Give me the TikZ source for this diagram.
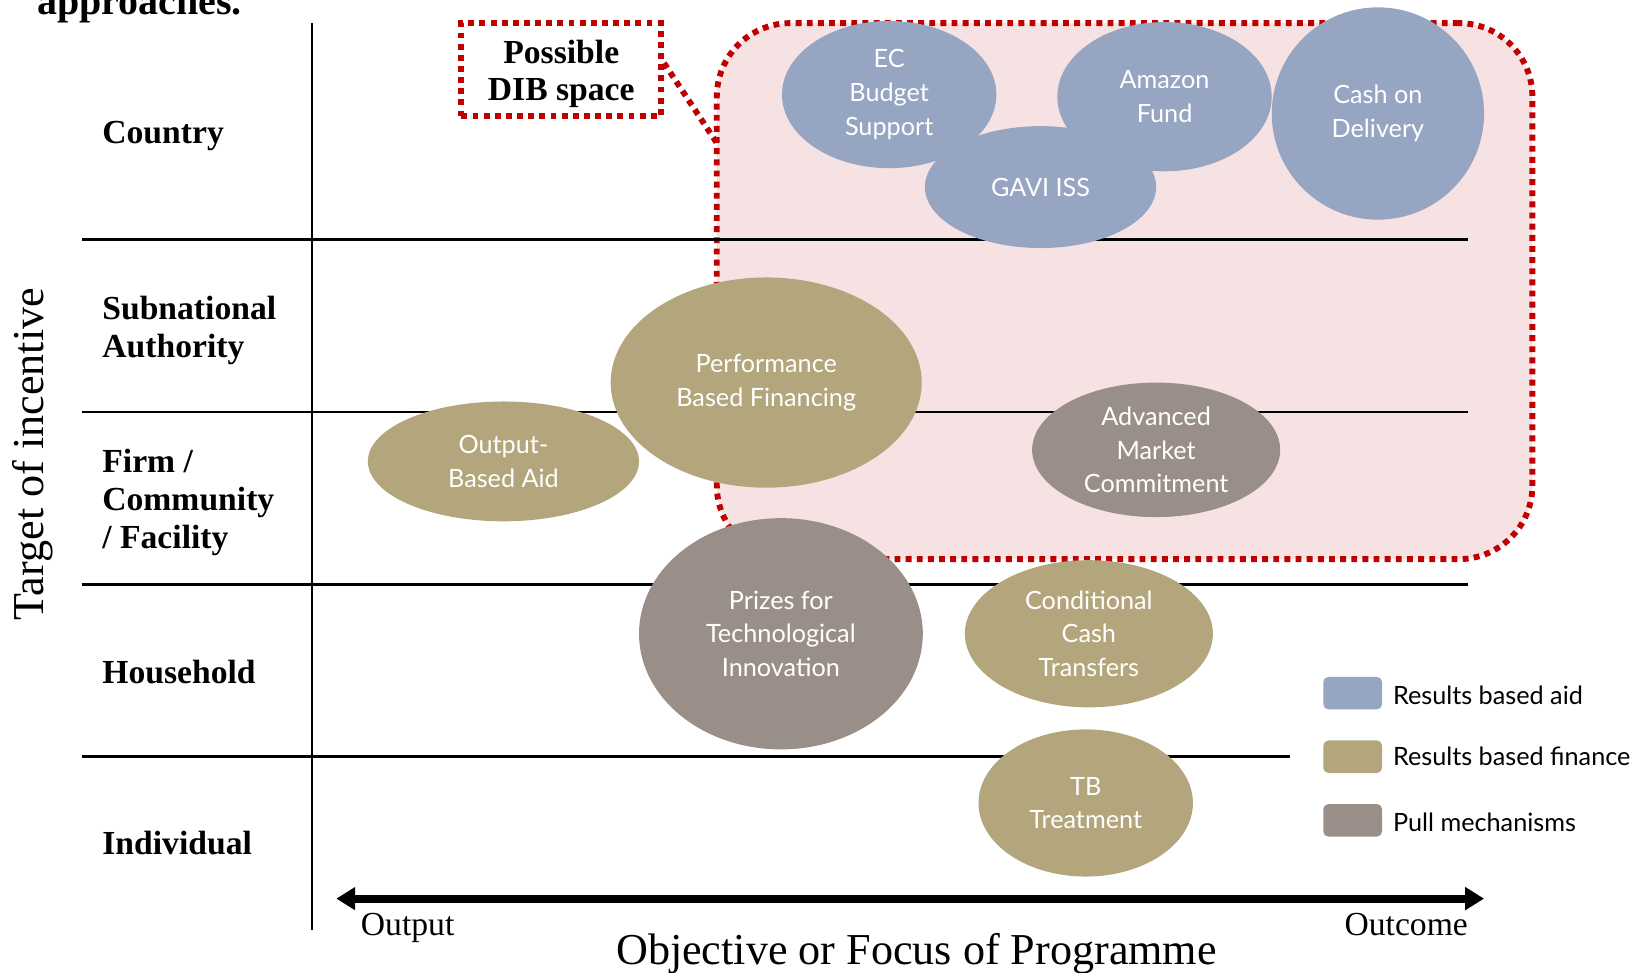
\documentclass[tikz,border=0pt]{standalone}
\usepackage{fontspec}
\setmainfont{Liberation Serif}
\newfontfamily\ellfont{Lato}
\usetikzlibrary{arrows.meta,shapes.geometric}
\definecolor{rbaid}{HTML}{95A5C2}
\definecolor{rbfin}{HTML}{B3A57C}
\definecolor{pullm}{HTML}{9A8E89}
\definecolor{dibred}{HTML}{C00000}
\definecolor{dibpink}{HTML}{F7E2E3}
\tikzset{
  rowlabel/.style={anchor=base west, align=left, inner sep=0, font=\fontsize{16}{18}\selectfont\bfseries},
  bubble/.style={ellipse, inner sep=0, align=center, text=white, font=\ellfont\fontsize{12}{16}\selectfont},
  aidbubble/.style={bubble, fill=rbaid},
  finbubble/.style={bubble, fill=rbfin},
  pullbubble/.style={bubble, fill=pullm},
  gridline/.style={line width=1.25pt},
  reddot/.style={draw=dibred, line width=2.8pt, dash pattern=on 2.8pt off 2.5pt},
  legbox/.style={rectangle, rounded corners=2.5pt, minimum width=28pt, minimum height=15.5pt, inner sep=0},
  legtext/.style={anchor=base west, inner sep=0, font=\ellfont\fontsize{12}{14}\selectfont},
  axtext/.style={inner sep=0, font=\fontsize{16}{18}\selectfont},
}
\begin{document}
\begin{tikzpicture}[x=0.5pt,y=-0.5pt]
\useasboundingbox (0,0) rectangle (1568,925);

% title fragment
\node[anchor=base west, inner sep=0, font=\fontsize{19}{22}\selectfont\bfseries] (title) at (35,14) {approaches.};

% DIB zone
\node[reddot, fill=dibpink, rounded corners=35pt, minimum width=388pt, minimum height=255pt, inner sep=0] (zone) at (1070,277) {};
\node[reddot, minimum width=95pt, minimum height=44pt, inner sep=0] (dib) at (534,66) {};
\node[anchor=base, align=center, inner sep=0, font=\fontsize{16}{18}\selectfont\bfseries] (dibtext) at (534,96) {Possible\\DIB space};
\coordinate (zin) at (682,136);
\draw[reddot] ([yshift=3pt]dib.east) -- (zin);

% grid
\coordinate (vtop) at (297,22);
\coordinate (vbot) at (297,885);
\draw[gridline] (vtop) -- (vbot);
\coordinate (h1a) at (78,228);  \coordinate (h1b) at (1397,228);
\coordinate (h2a) at (78,392);  \coordinate (h2b) at (1397,392);
\coordinate (h3a) at (78,556);  \coordinate (h3b) at (1397,556);
\coordinate (h4a) at (78,720);  \coordinate (h4b) at (1227,720);
\draw[gridline] (h1a) -- (h1b);
\draw[gridline] (h2a) -- (h2b);
\draw[gridline] (h3a) -- (h3b);
\draw[gridline] (h4a) -- (h4b);

% row labels (base = last line)
\node[rowlabel] (rcountry) at (97,136.5) {Country};
\node[rowlabel] (rsub) at (97,340) {Subnational\\Authority};
\node[rowlabel] (rfirm) at (97,521.5) {Firm /\\Community\\/ Facility};
\node[rowlabel] (rhouse) at (97,650) {Household};
\node[rowlabel] (rindiv) at (97,813) {Individual};

% y axis title
\node[rotate=90, anchor=base, inner sep=0, font=\fontsize{21}{24}\selectfont] (ytitle) at (41,432) {Target of incentive};

% x axis
\coordinate (axL) at (320,855);
\coordinate (axR) at (1412,855);
\draw[line width=3.8pt, {Triangle[length=9pt,width=10.5pt]}-{Triangle[length=9pt,width=10.5pt]}] (axL) -- (axR);
\node[axtext, anchor=base west] (xout) at (343,890) {Output};
\node[axtext, anchor=base east] (xoutc) at (1397,890) {Outcome};
\node[anchor=base, inner sep=0, font=\fontsize{21}{24}\selectfont] (xtitle) at (872,918) {Objective or Focus of Programme};

% bubbles
\node[aidbubble, minimum width=102pt, minimum height=70pt] (ec) at (846,90) {EC\\Budget\\Support};
\node[aidbubble, minimum width=102pt, minimum height=71pt] (amazon) at (1108,92) {Amazon\\Fund};
\node[aidbubble, minimum width=110pt, minimum height=58pt] (gavi) at (990,178) {GAVI ISS};
\node[aidbubble, minimum width=101pt, minimum height=101pt] (cod) at (1311,108) {Cash on\\Delivery};
\node[finbubble, minimum width=148pt, minimum height=100pt] (pbf) at (729,364) {Performance\\Based Financing};
\node[finbubble, minimum width=129pt, minimum height=57pt] (oba) at (479,439) {Output-\\Based Aid};
\node[pullbubble, minimum width=118pt, minimum height=64pt] (amc) at (1100,428) {Advanced\\Market\\Commitment};
\node[pullbubble, minimum width=135pt, minimum height=110pt] (prize) at (743,603) {Prizes for\\Technological\\Innovation};
\node[finbubble, minimum width=118pt, minimum height=70pt] (cct) at (1036,603) {Conditional\\Cash\\Transfers};
\node[finbubble, minimum width=102pt, minimum height=70pt] (tb) at (1033,764) {TB\\Treatment};

% legend
\node[legbox, fill=rbaid] (legaid) at (1287,659.5) {};
\node[legbox, fill=rbfin] (legfin) at (1287,720) {};
\node[legbox, fill=pullm] (legpull) at (1287,780.5) {};
\node[legtext] (tlegaid) at (1325,670) {Results based aid};
\node[legtext] (tlegfin) at (1325,728) {Results based finance};
\node[legtext] (tlegpull) at (1325,791) {Pull mechanisms};
\end{tikzpicture}
\end{document}
